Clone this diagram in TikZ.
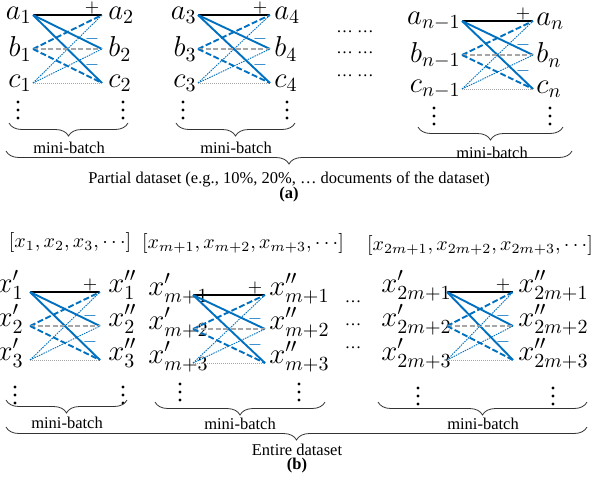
\documentclass[tikz,border=0pt]{standalone}
\usepackage[no-math]{fontspec}
\setmainfont{Liberation Serif}
\usepackage{tikz}
\usetikzlibrary{decorations.pathreplacing,positioning,calc}

\definecolor{negblue}{RGB}{0,112,192}
\definecolor{linegray}{RGB}{166,166,166}

\tikzset{
    lbl/.style={inner sep=0.5pt, font=\fontsize{14.4}{15}\selectfont},
    hdr/.style={inner sep=0pt, font=\fontsize{10}{11}\selectfont},
    btxt/.style={inner sep=0pt, font=\fontsize{8.25}{9}\selectfont},
    sgn/.style={inner sep=0pt, font=\fontsize{9}{9}\selectfont},
    posline/.style={black, line width=0.7pt},
    hardneg/.style={negblue, line width=0.95pt},
    negdash/.style={negblue, line width=0.95pt, dash pattern=on 3pt off 1.25pt},
    graydash/.style={linegray, line width=0.7pt, dash pattern=on 2.5pt off 1.25pt},
    negdot/.style={negblue, line width=0.45pt, dash pattern=on 0.75pt off 0.5pt},
    graydot/.style={linegray, line width=0.4pt, dash pattern=on 0.5pt off 0.5pt},
    mbbrace/.style={decorate, decoration={brace, amplitude=6.5pt}, line width=0.4pt, black!80}
}

\begin{document}
\begin{tikzpicture}[x=0.5pt, y=-0.5pt]
    \useasboundingbox (0,0) rectangle (592,478);

    % Mini-batches: anchors, line ends, labels
    \foreach \k/\xl/\xr/\y/\tl/\tr/\la/\lb/\lc/\ra/\rb/\rc/\al/\ar in {
        1/33/102/15/0/5/a_1/b_1/c_1/a_2/b_2/c_2/east/west,
        2/198/270/15/0/3/a_3/b_3/c_3/a_4/b_4/c_4/east/west,
        3/462/533/21/0/2/a_{n-1}/b_{n-1}/c_{n-1}/a_n/b_n/c_n/east/west,
        4/30/100/292/-5/7/x'_1/x'_2/x'_3/x''_1/x''_2/x''_3/base east/base west,
        5/193/265/295/17/3/x'_{m+1}/x'_{m+2}/x'_{m+3}/x''_{m+1}/x''_{m+2}/x''_{m+3}/base east/base west,
        6/447/513/292/6/4/x'_{2m+1}/x'_{2m+2}/x'_{2m+3}/x''_{2m+1}/x''_{2m+2}/x''_{2m+3}/base east/base west} {
        \coordinate (p\k-1) at (\xl,\y);
        \coordinate (p\k-2) at (\xl,\y+34);
        \coordinate (p\k-3) at (\xl,\y+68);
        \coordinate (q\k-1) at (\xr,\y);
        \coordinate (q\k-2) at (\xr,\y+34);
        \coordinate (q\k-3) at (\xr,\y+68);

        \node[lbl, anchor=\al] (l\k-1) at (\xl+\tl,\y) {$\la$};
        \node[lbl, anchor=\al] (l\k-2) at (\xl+\tl,\y+34) {$\lb$};
        \node[lbl, anchor=\al] (l\k-3) at (\xl+\tl,\y+68) {$\lc$};
        \node[lbl, anchor=\ar] (r\k-1) at (\xr+\tr,\y) {$\ra$};
        \node[lbl, anchor=\ar] (r\k-2) at (\xr+\tr,\y+34) {$\rb$};
        \node[lbl, anchor=\ar] (r\k-3) at (\xr+\tr,\y+68) {$\rc$};

        % positive pair and negatives
        \draw[posline] (p\k-1) -- (q\k-1);
        \draw[hardneg] (p\k-1) -- (q\k-2);
        \draw[hardneg] (p\k-1) -- (q\k-3);
        \draw[negdash] (p\k-2) -- (q\k-1);
        \draw[graydash] (p\k-2) -- (q\k-2);
        \draw[negdash] (p\k-2) -- (q\k-3);
        \draw[negdot] (p\k-3) -- (q\k-1);
        \draw[negdot] (p\k-3) -- (q\k-2);
        \draw[graydot] (p\k-3) -- (q\k-3);

        \node[sgn] (plus\k) at (\xr-10,\y-7) {$+$};
        \node[sgn, negblue] (mna\k) at (\xr-10,\y+24) {$-$};
        \node[sgn, negblue] (mnb\k) at (\xr-10,\y+50) {$-$};
    }

    % Vertical dots under each column
    \foreach \x/\y in {18/110, 123/110, 183/110, 287/110, 434/116, 550/116,
                       15/395, 123/395, 180/392, 299/392, 418/396, 553/396} {
        \foreach \d in {-8,0,8}
            \fill (\x,\y+\d) circle (0.8pt);
    }

    % Dots between mini-batches
    \node[btxt] (md1) at (355,32) {… …};
    \node[btxt] (md2) at (355,53) {… …};
    \node[btxt] (md3) at (355,76) {… …};
    \node[btxt] (md4) at (353,302) {…};
    \node[btxt] (md5) at (353,325) {…};
    \node[btxt] (md6) at (353,348) {…};

    % Input lists for part (b)
    \node[hdr] (in1) at (70,242) {$[x_1,x_2,x_3,\cdots]$};
    \node[hdr] (in2) at (243,243) {$[x_{m+1},x_{m+2},x_{m+3},\cdots]$};
    \node[hdr] (in3) at (480,245) {$[x_{2m+1},x_{2m+2},x_{2m+3},\cdots]$};

    % Braces, part (a)
    \draw[mbbrace] (128,123) -- (9,123);
    \draw[mbbrace] (295,123) -- (176,123);
    \draw[mbbrace] (563,127) -- (418,127);
    \draw[mbbrace] (572,151) -- (6,151);
    \node[btxt] (mb1) at (69,148) {mini-batch};
    \node[btxt] (mb2) at (236,148) {mini-batch};
    \node[btxt] (mb3) at (492,153) {mini-batch};
    \node[btxt] (part) at (289,179) {Partial dataset (e.g., 10\%, 20\%, … documents of the dataset)};
    \node[btxt, font=\fontsize{8.25}{9}\selectfont\bfseries] (capa) at (289,195) {(a)};

    % Braces, part (b)
    \draw[mbbrace] (127,400) -- (6,400);
    \draw[mbbrace] (325,402) -- (155,402);
    \draw[mbbrace] (587,402) -- (378,402);
    \draw[mbbrace] (587,427) -- (6,427);
    \node[btxt] (mb4) at (67,423) {mini-batch};
    \node[btxt] (mb5) at (240,424) {mini-batch};
    \node[btxt] (mb6) at (483,424) {mini-batch};
    \node[btxt] (entire) at (297,450) {Entire dataset};
    \node[btxt, font=\fontsize{8.25}{9}\selectfont\bfseries] (capb) at (297,466) {(b)};
\end{tikzpicture}
\end{document}
